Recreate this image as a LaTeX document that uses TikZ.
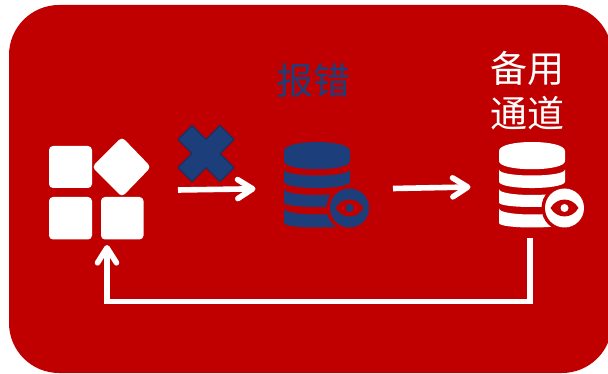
\documentclass[tikz,border=0pt]{standalone}
\usepackage{fontspec}
\newfontfamily\cjk{Noto Sans CJK SC}
\usetikzlibrary{arrows.meta}
\definecolor{panelred}{HTML}{C00000}
\definecolor{iconblue}{HTML}{1C3F7C}
\definecolor{crossedge}{HTML}{1A3164}
\tikzset{
  x=1pt,y=-1pt,
  flow/.style={draw=white,line width=5.6pt,-{Straight Barb[round,length=15pt,width=19pt]}},
  tile/.style={fill=white,rounded corners=4pt},
  label cjk/.style={font=\cjk\fontsize{37}{45}\selectfont,inner sep=0pt,align=center},
  dbeye/.pic={
    \tikzset{every path/.append style={fill=#1}}
    \path (-33,9) .. controls (-33,-3) and (33,-3) .. (33,9) -- (33,19) .. controls (33,30) and (-33,30) .. (-33,19) -- cycle;
    \path (-33,27.5) .. controls (-33,35.5) and (33,35.5) .. (33,27.5) -- (33,39.5) .. controls (33,48.2) and (-33,48.2) .. (-33,39.5) -- cycle;
    \path (-33,47) .. controls (-33,55) and (33,55) .. (33,47) -- (33,60.5) .. controls (33,66.5) and (-33,66.5) .. (-33,60.5) -- cycle;
    \path (-33,66.5) .. controls (-33,74.5) and (33,74.5) .. (33,66.5) -- (33,81) .. controls (33,87) and (-33,87) .. (-33,81) -- cycle;
    \path[fill=panelred] (32.5,66) circle[radius=23];
    \path (32.5,66) circle[radius=19.5];
    \path[fill=panelred] (18.5,66) .. controls (25,54.7) and (40,54.7) .. (46.5,66) .. controls (40,77.3) and (25,77.3) .. cycle;
    \path (32.5,66) circle[radius=4];
  }
}
\begin{document}
\begin{tikzpicture}
\useasboundingbox (0,0) rectangle (608,374);
\fill[panelred,rounded corners=50pt] (9,5) rectangle (612,373);
% grid icon
\fill[tile] (49,146) rectangle (92,188);
\fill[tile] (49,197) rectangle (92,239.5);
\fill[tile] (101,197) rectangle (143.5,239.5);
\fill[tile] (122,137) -- (151,167) -- (122,197) -- (92,167) -- cycle;
% cross
\draw[fill=iconblue,draw=crossedge,line width=1.3pt,line join=round]
  (206,139.5) -- (220,125.5) -- (234,139.5) -- (220,153.5) -- (234,167.5) -- (220,181.5) -- (206,167.5)
  -- (192,181.5) -- (178,167.5) -- (192,153.5) -- (178,139.5) -- (192,125.5) -- cycle;
% databases
\pic at (317,142) {dbeye=iconblue};
\pic at (532,142) {dbeye=white};
% texts
\node[label cjk,text=iconblue] (err) at (313,80.5) {报错};
\node[label cjk,text=white] (backup) at (527,90.5) {备用\\通道};
% anchors
\coordinate (a1s) at (178,190);
\coordinate (a1e) at (255.5,188.8);
\coordinate (a2s) at (393,188.5);
\coordinate (a2e) at (470.5,187);
\coordinate (a3s) at (530,238);
\coordinate (a3m1) at (530,301.5);
\coordinate (a3m2) at (107,301.5);
\coordinate (a3e) at (107,245);
\draw[flow] (a1s) -- (a1e);
\draw[flow] (a2s) -- (a2e);
\draw[flow,line join=miter] (a3s) -- (a3m1) -- (a3m2) -- (a3e);
\end{tikzpicture}
\end{document}
